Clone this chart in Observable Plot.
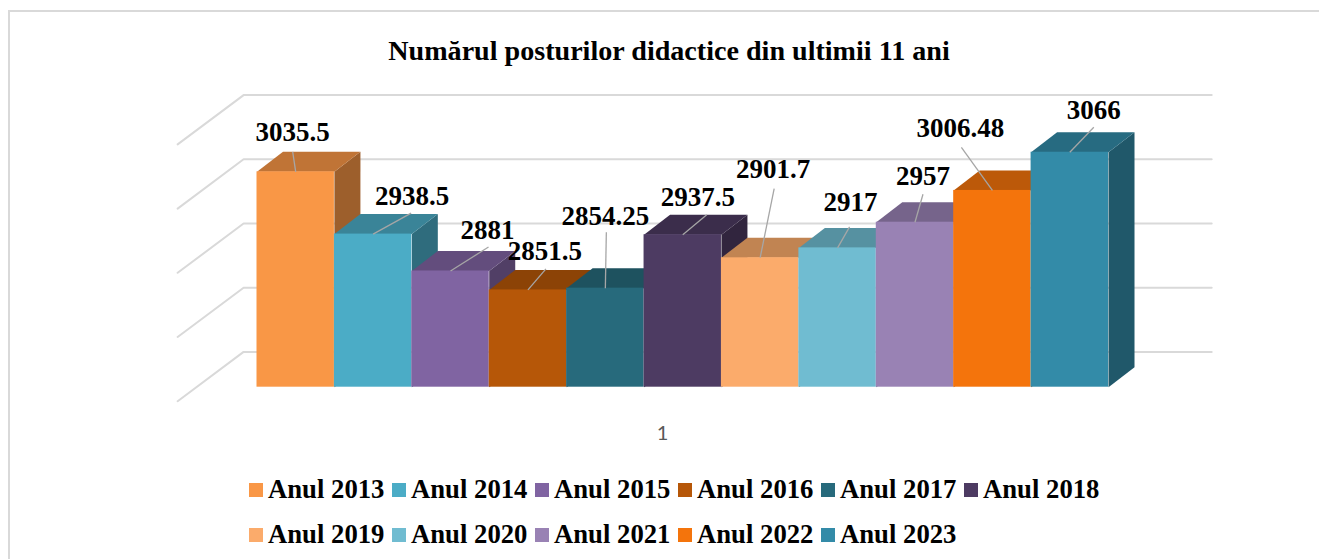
<!DOCTYPE html>
<html>
<head>
<meta charset="utf-8">
<script src="https://cdn.jsdelivr.net/npm/d3@7"></script>
<script src="https://cdn.jsdelivr.net/npm/@observablehq/plot@0.6"></script>
<style>
html,body{margin:0;padding:0;background:#fff;overflow:hidden;width:1319px;height:559px}
#frame{position:absolute;left:8px;top:10px;width:1340px;height:600px;border-left:2px solid #d9d9d9;border-top:2px solid #d9d9d9}
#title{position:absolute;left:0;top:32px;width:1338px;text-align:center;font:bold 28.1px/38px "Liberation Serif",serif;color:#000}
#chart{position:absolute;left:0;top:70px;width:1319px;height:385px}
#chart svg{display:block;background:transparent}
#legend{position:absolute;left:249px;top:467px;width:870px;display:flex;flex-wrap:wrap;font:bold 26.7px/45px "Liberation Serif",serif;color:#000}
.item{width:143px;height:45px;white-space:nowrap;display:flex;align-items:center}
.sw{width:14px;height:14px;margin-right:5px;flex:none}
</style>
</head>
<body>
<div id="frame"></div>
<div id="title">Numărul posturilor didactice din ultimii 11 ani</div>
<div id="chart"></div>
<div id="legend"></div>
<script>
const years = ["Anul 2013","Anul 2014","Anul 2015","Anul 2016","Anul 2017","Anul 2018","Anul 2019","Anul 2020","Anul 2021","Anul 2022","Anul 2023"];
const posts = [3035.5,2938.5,2881,2851.5,2854.25,2937.5,2901.7,2917,2957,3006.48,3066];
const labels = ["3035.5","2938.5","2881","2851.5","2854.25","2937.5","2901.7","2917","2957","3006.48","3066"];
const palette = ["#F99746","#4BACC6","#8064A2","#B65708","#276A7C","#4D3B62","#FBAB6B","#70BCD1","#9982B4","#F4740C","#338BA8"];
const gridValues = [2700,2800,2900,3000,3100];
const categoryLabel = ["1"];

// scale geometry: px per bar slot, px per value unit
const slot = 77.41, unit = 0.642, left = 256.5;
const width = 1319, height = 385, baseline = 2700;
const yBottom = baseline - 68.3 / unit, yTop = baseline + 316.7 / unit;
const xMin = -left / slot, xMax = (width - left) / slot;
// oblique depth vector, in data units, per unit of depth
const depthX = 26 / slot, depthY = 20 / unit;
const P = (i, v, d = 0) => ({x: i + d * depthX, y: v + d * depthY});

// label callout placement, as pixel offsets from the top-centre of each front face
const labelShift = [[-3,-39],[39,-38],[37,-41],[17,-39],[0,-72],[15,-37],[13,-88],[13,-46],[8,-46],[-32,-62],[24,-42]];
const leaderShift = [[-3,-20],[38,-21],[38,-24],[18,-21],[1,-56],[24,-20],[14,-69],[12,-21],[8,-28],[-31,-43],[24,-25]];

const rows = years.map((name, i) => ({name, i, value: posts[i], label: labels[i], color: palette[i]}));

const shade = (c, k) => { const r = d3.rgb(c); return d3.rgb(r.r*k, r.g*k, r.b*k).formatHex(); };

function gridPaths() {
  return gridValues.flatMap(v => [
    {...P(-0.79, v, -0.7), v},
    {...P(-0.766, v, 1.765), v},
    {...P(11.74, v, 1.765), v}
  ]);
}
const poly = pts => Plot.line(pts, {x: "x", y: "y", fill: d => d.fill, stroke: "none", curve: "linear-closed"});

const marks = [
  Plot.line(gridPaths(), {x: "x", y: "y", z: "v", stroke: "#d9d9d9", strokeWidth: 2})
];
for (const r of rows) {
  const a = r.i, b = r.i + 1, v = r.value;
  const sideFill = shade(r.color, 0.63), topFill = shade(r.color, 0.77);
  marks.push(
    poly([P(b, baseline), P(b, baseline, 1), P(b, v, 1), P(b, v)].map(p => ({...p, fill: sideFill}))),
    poly([P(a, v), P(b, v), P(b, v, 1), P(a, v, 1)].map(p => ({...p, fill: topFill}))),
    Plot.rect([r], {x1: d => d.i, x2: d => d.i + 1, y1: () => baseline, y2: "value", fill: "color"})
  );
}
marks.push(
  Plot.link(rows, {
    x1: d => d.i + 0.5, y1: "value",
    x2: d => d.i + 0.5 + leaderShift[d.i][0] / slot,
    y2: d => d.value - leaderShift[d.i][1] / unit,
    stroke: "#a6a6a6", strokeWidth: 1.3
  }),
  Plot.text(rows, {
    x: d => d.i + 0.5 + labelShift[d.i][0] / slot,
    y: d => d.value - labelShift[d.i][1] / unit,
    text: "label", fontFamily: "Liberation Serif", fontWeight: "bold", fontSize: 27, fill: "#000"
  }),
  Plot.text(categoryLabel, {
    x: () => (662 - left) / slot, y: () => baseline - 46 / unit,
    text: d => d, fontFamily: "Lato", fontSize: 20, fill: "#595959"
  })
);

const chart = Plot.plot({
  width, height,
  marginTop: 0, marginBottom: 0, marginLeft: 0, marginRight: 0,
  x: {domain: [xMin, xMax], range: [0, width], axis: null},
  y: {domain: [yBottom, yTop], range: [height, 0], axis: null},
  color: {type: "identity"},
  style: {background: "transparent"},
  marks
});
document.getElementById("chart").append(chart);

const legend = document.getElementById("legend");
rows.forEach(r => {
  const it = document.createElement("div"); it.className = "item";
  const sw = document.createElement("span"); sw.className = "sw"; sw.style.background = r.color;
  const t = document.createElement("span"); t.textContent = r.name;
  it.append(sw, t); legend.append(it);
});
</script>
</body>
</html>
